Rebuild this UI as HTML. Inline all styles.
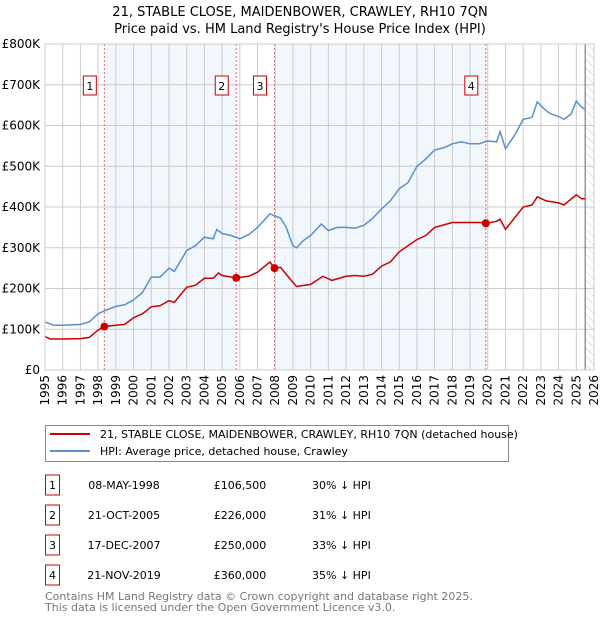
<!DOCTYPE html>
<html><head><meta charset="utf-8"><style>
body{margin:0;background:#fff;font-family:"Liberation Sans","DejaVu Sans",sans-serif;}
svg text{font-family:"DejaVu Sans","Liberation Sans",sans-serif;}
</style></head><body>
<svg id="c" width="600" height="620" xmlns="http://www.w3.org/2000/svg">
<defs><pattern id="hatch" width="6" height="6" patternUnits="userSpaceOnUse" patternTransform="rotate(-45)"><line x1="0" y1="0" x2="0" y2="6" stroke="#ccc" stroke-width="1"/></pattern></defs>
<text x="300" y="16" text-anchor="middle" font-size="13">21, STABLE CLOSE, MAIDENBOWER, CRAWLEY, RH10 7QN</text>
<text x="300" y="33" text-anchor="middle" font-size="13">Price paid vs. HM Land Registry's House Price Index (HPI)</text>
<g id="plot"></g>
<g>
<rect x="45.5" y="425.5" width="463" height="36" fill="#fff" stroke="#888"/>
<line x1="50" y1="434" x2="90" y2="434" stroke="#cc0000" stroke-width="2"/>
<text x="100" y="438" font-size="11">21, STABLE CLOSE, MAIDENBOWER, CRAWLEY, RH10 7QN (detached house)</text>
<line x1="50" y1="451" x2="90" y2="451" stroke="#5b8fd1" stroke-width="2"/>
<text x="100" y="455" font-size="11">HPI: Average price, detached house, Crawley</text>
</g>
<g id="table" font-size="11"></g>
<text x="45" y="600" font-size="11" fill="#777">Contains HM Land Registry data © Crown copyright and database right 2025.</text>
<text x="45" y="611" font-size="11" fill="#777">This data is licensed under the Open Government Licence v3.0.</text>
</svg>
<script>
const hpiYears=[1995,1995.5,1996,1997,1997.5,1998,1998.4,1999,1999.5,2000,2000.5,2001,2001.5,2002,2002.3,2003,2003.5,2004,2004.5,2004.7,2005,2005.5,2006,2006.5,2007,2007.7,2008.3,2008.6,2009,2009.2,2009.6,2010,2010.6,2011,2011.5,2012,2012.5,2013,2013.5,2014,2014.5,2015,2015.5,2016,2016.5,2017,2017.5,2018,2018.5,2019,2019.5,2020,2020.5,2020.7,2021,2021.5,2022,2022.5,2022.8,2023.2,2023.5,2024,2024.3,2024.7,2025,2025.3,2025.5];
const hpiValues=[118,110,110,112,118,138,146,156,160,172,190,228,228,250,242,293,305,326,322,345,335,330,322,332,350,383,373,352,305,300,318,330,358,342,350,350,348,355,372,395,415,445,460,500,518,540,545,555,560,555,555,562,560,585,543,575,615,620,658,640,630,622,615,628,660,645,640];
const paidYears=[1995,1995.3,1996,1997,1997.5,1998,1998.35,1999,1999.5,2000,2000.5,2001,2001.5,2002,2002.3,2003,2003.5,2004,2004.5,2004.8,2005,2005.8,2006.5,2007,2007.7,2007.96,2008.3,2009,2009.2,2010,2010.7,2011.2,2012,2012.5,2013,2013.5,2014,2014.5,2015,2016,2016.5,2017,2018,2019,2019.5,2019.89,2020.5,2020.7,2021,2022,2022.5,2022.8,2023.3,2024,2024.3,2025,2025.3,2025.5];
const paidValues=[82,76,76,77,80,98,106.5,110,112,128,138,155,158,170,166,203,208,225,225,238,232,226,230,240,265,250,252,215,205,210,230,220,230,232,230,235,255,265,290,320,330,350,362,362,362,360,365,370,345,400,405,425,415,410,405,430,420,420];
const saleYears=[1998.35,2005.8,2007.96,2019.89];
const saleValues=[106.5,226,250,360];
const saleDates=["08-MAY-1998","21-OCT-2005","17-DEC-2007","21-NOV-2019"];
const salePrices=["£106,500","£226,000","£250,000","£360,000"];
const saleDiff=["30% ↓ HPI","31% ↓ HPI","33% ↓ HPI","35% ↓ HPI"];
const yTicks=[0,100,200,300,400,500,600,700,800];
const yTickLabels=["£0","£100K","£200K","£300K","£400K","£500K","£600K","£700K","£800K"];
const xTicks=[1995,1996,1997,1998,1999,2000,2001,2002,2003,2004,2005,2006,2007,2008,2009,2010,2011,2012,2013,2014,2015,2016,2017,2018,2019,2020,2021,2022,2023,2024,2025,2026];

const NS="http://www.w3.org/2000/svg";
const X0=45,X1=594,Y0=370,Y1=44;
const xs=y=>X0+(y-1995)/(2026-1995)*(X1-X0);
const ys=v=>Y0-v/800*(Y0-Y1);
const plot=document.getElementById('plot');
function mk(t,a,p){const e=document.createElementNS(NS,t);for(const k in a)e.setAttribute(k,a[k]);(p||plot).appendChild(e);return e;}
const bg=mk('rect',{x:X0,y:Y1,width:X1-X0,height:Y0-Y1,fill:'#fff'});


const bands=[[0,1],[2,3]];
bands.forEach(b=>{const r=mk('rect',{x:xs(saleYears[b[0]]),y:Y1,width:xs(saleYears[b[1]])-xs(saleYears[b[0]]),height:Y0-Y1,fill:'#f2f6fd'});

});
const h=mk('rect',{x:xs(2025.5),y:Y1,width:X1-xs(2025.5),height:Y0-Y1,fill:'url(#hatch)'});


yTicks.forEach((v,i)=>{const l=mk('line',{x1:X0,x2:X1,y1:ys(v),y2:ys(v),stroke:'#ccc'});


const t=mk('text',{x:40,y:ys(v)+4,'text-anchor':'end','font-size':12});t.textContent=yTickLabels[i];

});
xTicks.forEach(y=>{const l=mk('line',{x1:xs(y),x2:xs(y),y1:Y1,y2:Y0,stroke:'#ccc'});


const t=mk('text',{x:0,y:0,'text-anchor':'end','font-size':12,transform:`translate(${xs(y)+4},${Y0+5}) rotate(-90)`});t.textContent=y;

});
const ol=mk('line',{x1:xs(2025.5),x2:xs(2025.5),y1:Y1,y2:Y0,stroke:'#666'});


saleYears.forEach((y,i)=>{const l=mk('line',{x1:xs(y),x2:xs(y),y1:Y1,y2:Y0,stroke:'#e66','stroke-dasharray':'2,2'});


const bx=mk('rect',{x:xs(y)-21,y:76,width:13,height:19,fill:'#fff',stroke:'#cc0000'});


const t=mk('text',{x:xs(y)-14.5,y:90,'text-anchor':'middle','font-size':11});t.textContent=i+1;

});
function path(xa,va,col,name){const d=xa.map((y,i)=>(i?'L':'M')+xs(y).toFixed(1)+','+ys(va[i]).toFixed(1)).join('');
const p=mk('path',{d:d,fill:'none',stroke:col,'stroke-width':1.5});

}
path(hpiYears,hpiValues,'#5b8fd1','hpi-line');
path(paidYears,paidValues,'#cc0000','price-paid-line');
saleYears.forEach((y,i)=>{const c=mk('circle',{cx:xs(y),cy:ys(saleValues[i]),r:4,fill:'#cc0000'});

});
const bd=mk('rect',{x:X0,y:Y1,width:X1-X0,height:Y0-Y1,fill:'none',stroke:'#ccc'});


const tb=document.getElementById('table');
saleDates.forEach((d,i)=>{const y=483+i*30;
const r=mk('rect',{x:45.5,y:y-8,width:14,height:20,fill:'#fff',stroke:'#cc0000'},tb);


const cells=[[52.5,String(i+1),'middle'],[124,d,'middle'],[240,salePrices[i],'middle'],[312,saleDiff[i],'start']];
cells.forEach(c=>{const t=mk('text',{x:c[0],y:y+6,'text-anchor':c[2]},tb);t.textContent=c[1];

});});
</script>
</body></html>
